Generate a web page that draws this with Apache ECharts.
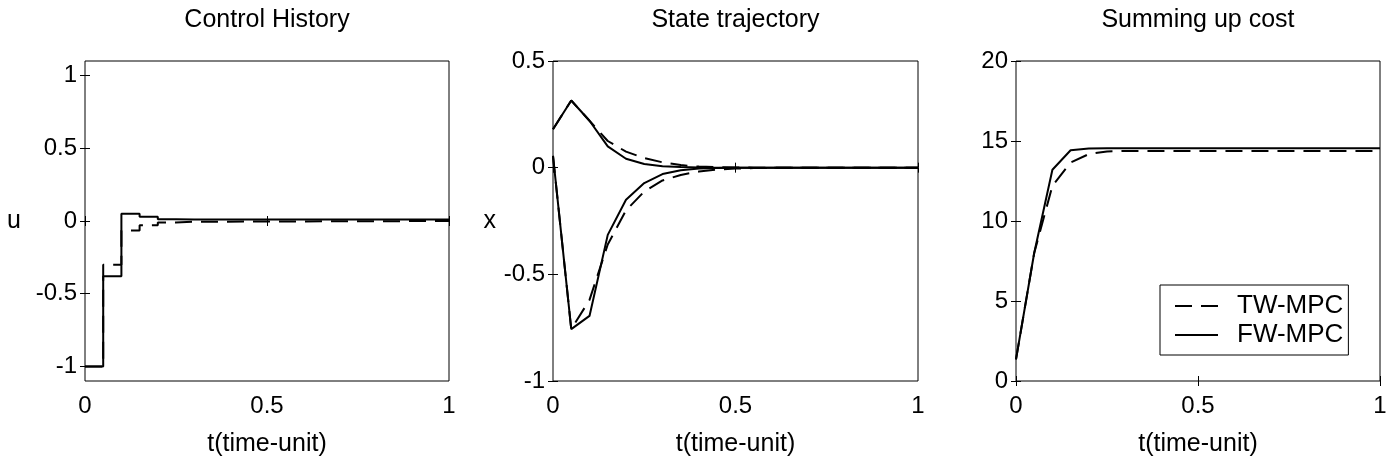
<!DOCTYPE html>
<html>
<head>
<meta charset="utf-8">
<script src="https://cdn.jsdelivr.net/npm/echarts@6/dist/echarts.min.js"></script>
<style>
  html, body { margin: 0; padding: 0; background: #fff; }
  #chart { width: 1400px; height: 467px; }
</style>
</head>
<body>
<div id="chart"></div>
<script>
// control history (stairs, value held until next sample)
const tU = [0, 0.05, 0.1, 0.15, 0.2, 0.25, 0.3, 1];
const uTW = [-1, -0.30, -0.065, -0.03, -0.01, -0.005, 0, 0];
const uFW = [-1, -0.38, 0.05, 0.03, 0.012, 0.01, 0.01, 0.01];

// state trajectory, two states
const tX = [0, 0.05, 0.1, 0.15, 0.2, 0.25, 0.3, 0.35, 0.4, 0.45, 0.5, 0.55, 0.6, 1];
const x1TW = [0.18, 0.315, 0.22, 0.125, 0.075, 0.045, 0.025, 0.012, 0.005, 0.002, 0.001, 0, 0, 0];
const x1FW = [0.18, 0.315, 0.22, 0.10, 0.042, 0.017, 0.007, 0.003, 0.001, 0, 0, 0, 0, 0];
const x2TW = [0.055, -0.757, -0.62, -0.36, -0.2, -0.112, -0.06, -0.034, -0.018, -0.009, -0.004, -0.002, -0.001, 0];
const x2FW = [0.055, -0.757, -0.695, -0.315, -0.15, -0.072, -0.03, -0.012, -0.004, -0.001, 0, 0, 0, 0];

// summing up cost
const tJ = [0, 0.05, 0.1, 0.15, 0.2, 0.25, 0.3, 1];
const jTW = [1.35, 8.0, 12.2, 13.65, 14.18, 14.35, 14.38, 14.38];
const jFW = [1.35, 8.0, 13.2, 14.42, 14.53, 14.55, 14.55, 14.55];

const titles = ['Control History', 'State trajectory', 'Summing up cost'];
const yNames = ['u', 'x', ''];
const xName = 't(time-unit)';
const legendNames = ['TW-MPC', 'FW-MPC'];
const xTicks = [0, 0.5, 1];
const yTicks = [[-1, -0.5, 0, 0.5, 1], [-1, -0.5, 0, 0.5], [0, 5, 10, 15, 20]];
const yRange = [[-1.1, 1.1], [-1, 0.5], [0, 20]];

const FONT = "'Liberation Sans', Arial, sans-serif";
const grids = [
  { left: 85, width: 364 },
  { left: 553, width: 365 },
  { left: 1016, width: 364 }
];

const zip = (t, v) => t.map((x, i) => [x, v[i]]);

const xAxis = [];
const yAxis = [];
grids.forEach((g, i) => {
  const tick = { show: true, inside: true, length: 5, lineStyle: { color: '#000', width: 1 } };
  xAxis.push({
    type: 'value', gridIndex: i, min: 0, max: 1, position: 'bottom',
    name: xName, nameLocation: 'middle', nameGap: 51,
    nameTextStyle: { color: '#000', fontSize: 25, fontFamily: FONT },
    axisLine: { show: false }, splitLine: { show: false },
    axisTick: Object.assign({ customValues: xTicks }, tick),
    axisLabel: { customValues: xTicks, color: '#000', fontSize: 24, fontFamily: FONT, margin: 13 }
  });
  xAxis.push({
    type: 'value', gridIndex: i, min: 0, max: 1, position: 'top',
    axisLine: { show: false }, splitLine: { show: false },
    axisTick: Object.assign({ customValues: xTicks }, tick),
    axisLabel: { show: false }
  });
  yAxis.push({
    type: 'value', gridIndex: i, min: yRange[i][0], max: yRange[i][1], position: 'left',
    name: yNames[i], nameLocation: 'middle', nameRotate: 0, nameGap: i === 0 ? 64 : 57,
    nameTextStyle: { color: '#000', fontSize: 25, fontFamily: FONT },
    axisLine: { show: false }, splitLine: { show: false },
    axisTick: Object.assign({ customValues: yTicks[i] }, tick),
    axisLabel: { customValues: yTicks[i], color: '#000', fontSize: 24, fontFamily: FONT, margin: 8 }
  });
  yAxis.push({
    type: 'value', gridIndex: i, min: yRange[i][0], max: yRange[i][1], position: 'right',
    axisLine: { show: false }, splitLine: { show: false },
    axisTick: Object.assign({ customValues: yTicks[i] }, tick),
    axisLabel: { show: false }
  });
});

const dashed = { color: '#000', width: 2, type: [17, 9] };
const solid = { color: '#000', width: 2, type: 'solid' };

function line(name, panel, t, v, style, step) {
  return {
    name: name, type: 'line', xAxisIndex: panel * 2, yAxisIndex: panel * 2,
    data: zip(t, v), symbol: 'none', showSymbol: false, step: step || false,
    lineStyle: style, itemStyle: { color: '#000' }, silent: true
  };
}

const series = [
  line('TW-MPC', 0, tU, uTW, dashed, 'end'),
  line('FW-MPC', 0, tU, uFW, solid, 'end'),
  line('TW-MPC', 1, tX, x1TW, dashed),
  line('TW-MPC', 1, tX, x2TW, dashed),
  line('FW-MPC', 1, tX, x1FW, solid),
  line('FW-MPC', 1, tX, x2FW, solid),
  line('TW-MPC', 2, tJ, jTW, dashed),
  line('FW-MPC', 2, tJ, jFW, solid)
];

// legend keys: two dashes vs one long stroke
const legendIcons = [
  'path://M0,0H17V2H0Z M26,0H43V2H26Z',
  'path://M0,0H43V2H0Z'
];

const chart = echarts.init(document.getElementById('chart'), null, { renderer: 'canvas' });
chart.setOption({
  animation: false,
  backgroundColor: '#fff',
  title: titles.map((s, i) => ({
    text: s, left: grids[i].left + grids[i].width / 2, top: 8, padding: 0,
    textAlign: 'center',
    textStyle: { color: '#000', fontSize: 25, fontWeight: 'normal', fontFamily: FONT }
  })),
  grid: grids.map(g => ({
    left: g.left, width: g.width, top: 61, height: 320,
    show: true, borderColor: '#000', borderWidth: 1, backgroundColor: '#fff'
  })),
  legend: {
    data: legendNames.map((n, i) => ({ name: n, icon: legendIcons[i] })),
    orient: 'vertical', left: 1160, top: 285,
    padding: [8, 5, 7, 15], itemGap: 3, itemWidth: 43, itemHeight: 2,
    symbolKeepAspect: true,
    itemStyle: { color: '#000', borderWidth: 0 },
    lineStyle: { width: 0 },
    borderColor: '#000', borderWidth: 1, borderRadius: 0, backgroundColor: '#fff',
    selectedMode: false,
    textStyle: { color: '#000', fontSize: 26, fontFamily: FONT, lineHeight: 24, padding: [0, 0, 0, 14] }
  },
  xAxis: xAxis,
  yAxis: yAxis,
  series: series
});
</script>
</body>
</html>
